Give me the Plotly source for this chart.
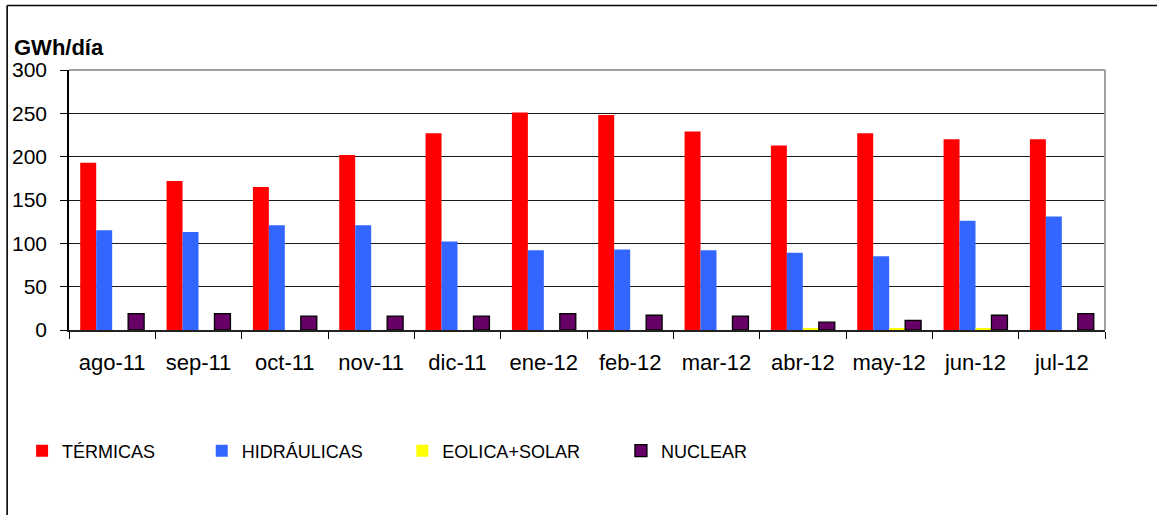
import plotly.graph_objects as go

months = ["ago-11", "sep-11", "oct-11", "nov-11", "dic-11", "ene-12",
          "feb-12", "mar-12", "abr-12", "may-12", "jun-12", "jul-12"]
termicas = [193, 172, 165, 202, 227, 251, 248, 229, 213, 227, 220, 220]
hidraulicas = [115, 113, 121, 121, 102, 92, 93, 92, 89, 85, 126, 131]
eolica_solar = [0, 0, 0, 0, 0, 0, 0, 0, 1.2, 1.2, 1.2, 0]
nuclear = [19, 19, 16, 16, 16, 19, 17, 16, 9, 11, 17, 19]
y_ticks = [0, 50, 100, 150, 200, 250, 300]

W, H = 1157, 515
L, R, T, B = 67, 52, 70, 185
PW, PH = W - L - R, H - T - B

def px_x(x):
    return (x - L) / PW

def px_y(y):
    return (H - B - y) / PH

FONT = "Liberation Sans, Arial, sans-serif"

fig = go.Figure()
series = [
    ("TÉRMICAS", termicas, "#FF0000", None, "legend"),
    ("HIDRÁULICAS", hidraulicas, "#3366FF", None, "legend2"),
    ("EOLICA+SOLAR", eolica_solar, "#FFFF00", None, "legend3"),
    ("NUCLEAR", nuclear, "#660066", "#000000", "legend4"),
]
for name, vals, color, lc, lg in series:
    fig.add_trace(go.Bar(
        x=months, y=vals, name=name, legend=lg,
        marker=dict(color=color,
                    line=dict(color=lc if lc else color, width=1.3 if lc else 0)),
    ))

text_starts = [60, 240, 441, 660]
leg_y = px_y(451)
legend_common = dict(orientation="h", yanchor="middle", y=leg_y, xanchor="left",
                     bgcolor="rgba(0,0,0,0)", borderwidth=0,
                     font=dict(family=FONT, size=18, color="#000"),
                     itemwidth=30)
legends = {}
for i, ts in enumerate(text_starts):
    key = "legend" if i == 0 else f"legend{i+1}"
    legends[key] = dict(legend_common, x=px_x(ts - 40))

shapes = [
    dict(type="line", xref="paper", yref="paper", x0=0, x1=1, y0=1, y1=1,
         line=dict(color="#A0A0A0", width=2)),
    dict(type="line", xref="paper", yref="paper", x0=1, x1=1, y0=0, y1=1,
         line=dict(color="#A0A0A0", width=2)),
    dict(type="line", xref="paper", yref="paper", x0=px_x(5), x1=px_x(5),
         y0=px_y(5.5), y1=px_y(530), line=dict(color="#000", width=1.6)),
    dict(type="line", xref="paper", yref="paper", x0=px_x(5), x1=px_x(1170),
         y0=px_y(5.5), y1=px_y(5.5), line=dict(color="#000", width=1.6)),
]

fig.update_layout(
    width=W, height=H,
    margin=dict(l=L, r=R, t=T, b=B, pad=0),
    paper_bgcolor="white", plot_bgcolor="white",
    barmode="group", bargap=0.26, bargroupgap=0,
    showlegend=True,
    font=dict(family=FONT, color="#000"),
    shapes=shapes,
    annotations=[dict(text="<b>GWh/día</b>", xref="paper", yref="paper",
                      x=px_x(10), y=px_y(47), xanchor="left", yanchor="middle",
                      showarrow=False, font=dict(family=FONT, size=22, color="#000"))],
    **legends,
)
fig.update_xaxes(
    type="category", tickson="boundaries", ticks="outside", ticklen=7,
    tickcolor="#000", tickwidth=1, showline=True, linecolor="#222", linewidth=2,
    showgrid=False, tickfont=dict(family=FONT, size=22, color="#000"),
    ticklabelstandoff=12,
)
fig.update_yaxes(
    range=[0, 300], tickvals=y_ticks, ticks="outside", ticklen=7, tickcolor="#000",
    showline=True, linecolor="#000", linewidth=1.5, showgrid=True,
    gridcolor="#1a1a1a", gridwidth=1.3, zeroline=False,
    tickfont=dict(family=FONT, size=21, color="#000"), ticklabelstandoff=9,
)

fig.write_html("out.html", config={"displayModeBar": False},
               post_script="document.body.style.margin='0';document.body.style.padding='0';")
